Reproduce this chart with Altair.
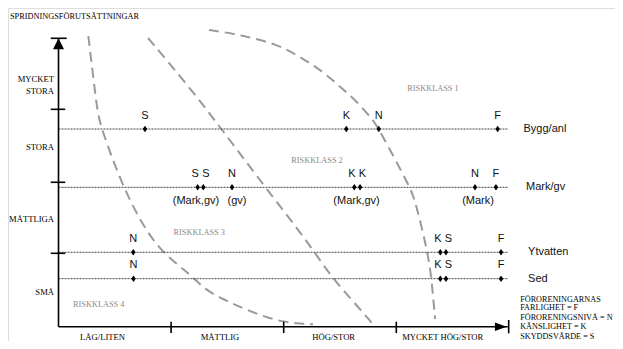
import altair as alt
import pandas as pd

# ---------------- data (diagram units: x = impact class 0..4, y = spreading class 0..4)
rows = ["Bygg/anl", "Mark/gv", "Ytvatten", "Sed"]
row_level = [2.742, 1.933, 1.032, 0.666]
row_label_x = [4.130, 4.152, 4.170, 4.170]

pt_row = [0, 0, 0, 0, 1, 1, 1, 1, 1, 1, 1, 2, 2, 2, 2, 3, 3, 3, 3]
pt_letter = ["S", "K", "N", "F", "S", "S", "N", "K", "K", "N", "F",
             "N", "K", "S", "F", "N", "K", "S", "F"]
pt_x = [0.768, 2.556, 2.844, 3.900, 1.236, 1.286, 1.541, 2.627, 2.678, 3.699, 3.885,
        0.664, 3.391, 3.441, 3.930, 0.666, 3.391, 3.441, 3.930]
pt_pair = [0, 0, 0, 0, -1, 1, 0, -1, 1, 0, 0, 0, -1, 1, 0, 0, -1, 1, 0]

sub_text = ["(Mark,gv)", "(gv)", "(Mark,gv)", "(Mark)"]
sub_x = [1.221, 1.585, 2.647, 3.726]

curve1_x = [0.265, 0.342, 0.369, 0.573, 0.786, 0.950, 1.119, 1.208, 1.301, 1.434, 1.701, 1.985, 2.260]
curve1_y = [4.031, 3.019, 2.797, 1.923, 1.300, 0.994, 0.786, 0.661, 0.523, 0.398, 0.211, 0.055, 0.033]
curve2_x = [0.795, 1.168, 1.434, 1.834, 2.118, 2.260, 2.438, 2.607, 2.784]
curve2_y = [4.004, 3.311, 2.770, 1.938, 1.369, 1.064, 0.662, 0.370, 0.051]
curve3_x = [1.337, 1.461, 1.612, 1.940, 2.145, 2.349, 2.500, 2.651, 2.793, 2.846, 3.121, 3.166, 3.281, 3.317, 3.344]
curve3_y = [4.115, 4.087, 4.046, 3.921, 3.745, 3.537, 3.329, 3.121, 2.867, 2.742, 1.938, 1.758, 1.032, 0.606, 0.107]

y_cats = ["MYCKET\nSTORA", "STORA", "MÅTTLIGA", "SMÅ"]
y_cat_pos = [3.438, 2.488, 1.494, 0.485]
y_ticks = [1.018, 2.003, 3.015]
x_cats = ["LÅG/LITEN", "MÅTTLIG", "HÖG/STOR", "MYCKET HÖG/STOR"]
x_cat_pos = [0.391, 1.434, 2.444, 3.412]
x_ticks = [1, 2, 3]

y_title = "SPRIDNINGSFÖRUTSÄTTNINGAR"

risk_text = ["RISKKLASS 1", "RISKKLASS 2", "RISKKLASS 3", "RISKKLASS 4"]
risk_x = [3.326, 2.296, 1.250, 0.357]
risk_y = [3.296, 2.302, 1.300, 0.305]

legend_lines = ["FÖRORENINGARNAS", "FARLIGHET = F", "FÖRORENINGSNIVÅ = N",
                "KÄNSLIGHET = K", "SKYDDSVÄRDE  = S"]
legend_y = [0.375, 0.255, 0.125, -0.010, -0.145]
legend_x = 4.100

# ---------------- layout
W, H = 607, 333
X0, XU = 58.5, 112.6
Y0, YU = 326.7, 72.1
xs = alt.Scale(domain=[(8 - X0) / XU, (8 + W - X0) / XU], nice=False, zero=False)
ys = alt.Scale(domain=[(Y0 - 8 - H) / YU, (Y0 - 8) / YU], nice=False, zero=False)
NUDGE = 2.5 / XU

SERIF = "Liberation Serif"
SANS = "Liberation Sans"


def X(f="v"):
    return alt.X(f"{f}:Q", scale=xs, axis=None)


def Y(f="u"):
    return alt.Y(f"{f}:Q", scale=ys, axis=None)


# axis segments
seg = [dict(v=0, v2=0, u=0, u2=4.0), dict(v=-0.069, v2=0.073, u=4.0, u2=4.0),
       dict(v=0, v2=3.99, u=0, u2=0), dict(v=3.998, v2=3.998, u=-0.092, u2=0.093)]
for t in y_ticks:
    seg.append(dict(v=-0.069, v2=0.06, u=t, u2=t))
for t in x_ticks:
    seg.append(dict(v=t, v2=t, u=-0.088, u2=0.069))
seg_df = pd.DataFrame(seg)
axes = alt.Chart(seg_df).mark_rule(color="black", strokeWidth=1.6).encode(
    x=X(), x2="v2:Q", y=Y(), y2="u2:Q")

arrows_up = alt.Chart(pd.DataFrame({"v": [0.0], "u": [3.924]})).mark_point(
    shape="M0,-1L1,1L-1,1Z", size=121, filled=True, color="black", opacity=1
).encode(x=X(), y=Y())
arrows_right = alt.Chart(pd.DataFrame({"v": [3.928], "u": [0.0]})).mark_point(
    shape="M1,0L-1,-0.72L-1,0.72Z", size=137, filled=True, color="black", opacity=1
).encode(x=X(), y=Y())

# dotted row lines
row_df = pd.DataFrame({"row": rows, "u": row_level, "v": [0.0] * 4, "v2": [3.99] * 4,
                       "lx": row_label_x})
row_lines = alt.Chart(row_df).mark_rule(color="#444444", strokeWidth=1, strokeDash=[2, 1]).encode(
    x=X(), x2="v2:Q", y=Y())
row_labels = alt.Chart(row_df).mark_text(
    align="left", baseline="middle", font=SANS, fontSize=11, color="#111111"
).encode(x=X("lx"), y=Y(), text="row:N")

# curves
cur = []
for cid, (cx, cy) in enumerate([(curve1_x, curve1_y), (curve2_x, curve2_y), (curve3_x, curve3_y)]):
    for i, (a, b) in enumerate(zip(cx, cy)):
        cur.append(dict(c=cid, i=i, v=a, u=b))
cur_df = pd.DataFrame(cur)
curves = alt.Chart(cur_df).mark_line(
    color="#9a9a9a", strokeWidth=2, strokeDash=[10, 6], interpolate="basis"
).encode(x=X(), y=Y(), detail="c:N", order="i:Q")

# points
pt_df = pd.DataFrame({"v": pt_x, "u": [row_level[r] for r in pt_row], "letter": pt_letter,
                      "lv": [x + p * NUDGE for x, p in zip(pt_x, pt_pair)]})
diamonds = alt.Chart(pt_df).mark_point(
    shape="M0,-1L0.7,0L0,1L-0.7,0Z", size=42, filled=True, color="black", opacity=1
).encode(x=X(), y=Y())
letters = alt.Chart(pt_df).mark_text(
    align="center", baseline="middle", font=SANS, fontSize=11, color="#111111", dy=-13.5
).encode(x=X("lv"), y=Y(), text="letter:N")

sub_df = pd.DataFrame({"v": sub_x, "u": [row_level[1]] * len(sub_x), "t": sub_text})
subs = alt.Chart(sub_df).mark_text(
    align="center", baseline="middle", font=SANS, fontSize=11, color="#111111", dy=13.7
).encode(x=X(), y=Y(), text="t:N")

# category labels
ycat_df = pd.DataFrame({"t": y_cats, "u": y_cat_pos, "v": [-0.04] * 4})
ycat = alt.Chart(ycat_df).mark_text(
    align="right", baseline="middle", font=SERIF, fontSize=8.6, color="black",
    lineBreak="\n", lineHeight=12.3
).encode(x=X(), y=Y(), text="t:N")
xcat_df = pd.DataFrame({"t": x_cats, "v": x_cat_pos, "u": [-0.137] * 4})
xcat = alt.Chart(xcat_df).mark_text(
    align="center", baseline="middle", font=SERIF, fontSize=8.6, color="black"
).encode(x=X(), y=Y(), text="t:N")
title_df = pd.DataFrame({"t": [y_title], "v": [-0.431], "u": [4.291]})
ytitle = alt.Chart(title_df).mark_text(
    align="left", baseline="middle", font=SERIF, fontSize=8.3, color="black"
).encode(x=X(), y=Y(), text="t:N")

risk_df = pd.DataFrame({"t": risk_text, "v": risk_x, "u": risk_y})
risk = alt.Chart(risk_df).mark_text(
    align="center", baseline="middle", font=SERIF, fontSize=8.3, color="#8a8a8a"
).encode(x=X(), y=Y(), text="t:N")

leg_df = pd.DataFrame({"t": legend_lines, "u": legend_y, "v": [legend_x] * 5})
leg = alt.Chart(leg_df).mark_text(
    align="left", baseline="middle", font=SERIF, fontSize=8.2, color="black"
).encode(x=X(), y=Y(), text="t:N")

chart = alt.layer(
    curves, row_lines, axes, arrows_up, arrows_right, diamonds, letters, subs,
    row_labels, ycat, xcat, ytitle, risk, leg
).properties(
    width=W, height=H, autosize=alt.AutoSizeParams(type="none"), padding=0
).configure_view(stroke=None).configure(background="white")

chart.save("out.html", embed_options={"renderer": "svg", "actions": False})
